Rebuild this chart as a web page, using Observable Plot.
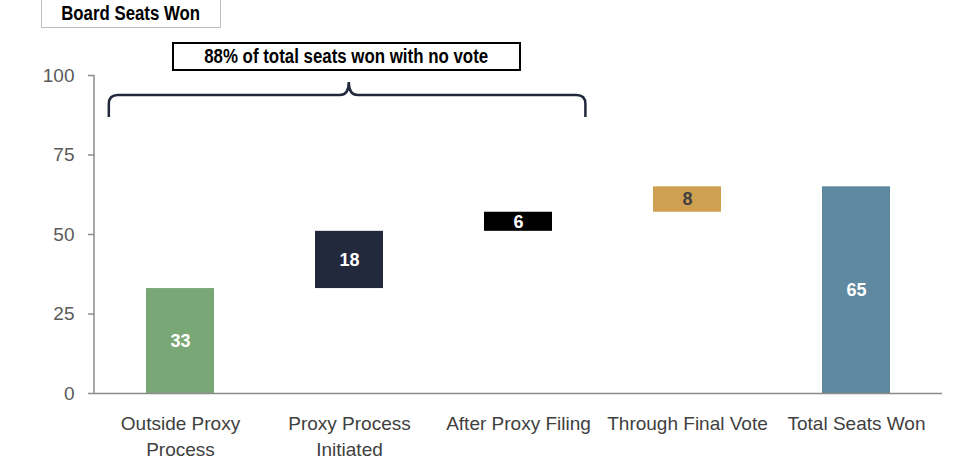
<!DOCTYPE html>
<html>
<head>
<meta charset="utf-8">
<script src="https://cdn.jsdelivr.net/npm/d3@7"></script>
<script src="https://cdn.jsdelivr.net/npm/@observablehq/plot@0.6"></script>
<style>
  html, body { margin: 0; padding: 0; background: #fff; }
  #wrap { position: relative; width: 961px; height: 467px; font-family: "Liberation Sans", Arial, sans-serif; }
  #wrap svg { position: absolute; left: 0; top: 0; }
  .title-box { position: absolute; left: 41px; top: -2px; width: 178px; height: 28px; border: 1.5px solid #bfbfbf; display: flex; align-items: center; justify-content: center; font-weight: bold; font-size: 20px; color: #000; background: #fff; z-index: 2; white-space: nowrap; }
  .title-box span { display: inline-block; transform: scaleX(0.84); }
  .note-box { position: absolute; left: 172px; top: 42px; width: 345px; height: 25px; border: 2px solid #000; display: flex; align-items: center; justify-content: center; font-weight: bold; font-size: 19.5px; color: #000; background: #fff; z-index: 2; white-space: nowrap; }
  .note-box span { display: inline-block; transform: scaleX(0.865); }
</style>
</head>
<body>
<div id="wrap"></div>
<script>
const title = "Board Seats Won";
const note = "88% of total seats won with no vote";
const categories = ["Outside Proxy\nProcess", "Proxy Process\nInitiated", "After Proxy Filing", "Through Final Vote", "Total Seats Won"];
const values = [33, 18, 6, 8, 65];
const isTotal = [false, false, false, false, true];
const yTicks = [0, 25, 50, 75, 100];
const palette = ["#7aa776", "#23293d", "#000000", "#d0a052", "#5f88a1"];
const labelColors = ["#ffffff", "#ffffff", "#ffffff", "#404040", "#ffffff"];

// build waterfall table
let run = 0;
const rows = categories.map((c, i) => {
  let y1, y2;
  if (isTotal[i]) { y1 = 0; y2 = values[i]; }
  else { y1 = run; y2 = run + values[i]; run = y2; }
  return {cat: c, y1, y2, mid: (y1 + y2) / 2, value: values[i], fill: palette[i], labelFill: labelColors[i]};
});

const FONT = '"Liberation Sans", Arial, sans-serif';

function brace(index, scales) {
  const x = scales.x, y = scales.y;
  const step = x(categories[1]) - x(categories[0]);
  const bw = step * 0.4;
  const cx = x(categories[1]) + bw / 2;
  const xl = x(categories[0]) - 0.22 * step;
  const xr = x(categories[2]) + bw + 0.2 * step;
  const yEnd = y(86.8), yTop = y(93.7), yTip = y(97.8);
  const r = 9;
  const d = `M${xl},${yEnd} L${xl},${yTop + r} Q${xl},${yTop} ${xl + r},${yTop} L${cx - r},${yTop} Q${cx},${yTop} ${cx},${yTip}` +
            ` Q${cx},${yTop} ${cx + r},${yTop} L${xr - r},${yTop} Q${xr},${yTop} ${xr},${yTop + r} L${xr},${yEnd}`;
  const p = document.createElementNS("http://www.w3.org/2000/svg", "path");
  p.setAttribute("d", d);
  p.setAttribute("fill", "none");
  p.setAttribute("stroke", "#23293d");
  p.setAttribute("stroke-width", "2.5");
  const g = document.createElementNS("http://www.w3.org/2000/svg", "g");
  g.appendChild(p);
  return g;
}

function yAxisLine(index, scales, values, dimensions) {
  const {marginLeft, marginTop, height, marginBottom} = dimensions;
  const l = document.createElementNS("http://www.w3.org/2000/svg", "line");
  l.setAttribute("x1", marginLeft); l.setAttribute("x2", marginLeft);
  l.setAttribute("y1", marginTop); l.setAttribute("y2", height - marginBottom);
  l.setAttribute("stroke", "#8c8c8c"); l.setAttribute("stroke-width", 1.5);
  return l;
}

const chart = Plot.plot({
  width: 961,
  height: 467,
  marginLeft: 94,
  marginRight: 19,
  marginTop: 75,
  marginBottom: 74,
  style: {fontFamily: FONT, background: "transparent"},
  x: {domain: categories, paddingInner: 0.6, paddingOuter: 0.3, label: null},
  y: {domain: [0, 100], label: null},
  marks: [
    Plot.axisY({ticks: yTicks, tickSize: 6, tickPadding: 14, stroke: "#8c8c8c", strokeWidth: 1.5, fill: "#595959", fontSize: 19, label: null}),
    yAxisLine,
    Plot.axisX({tickSize: 0, tickPadding: 18, fill: "#404040", fontSize: 19, lineHeight: 1.37, label: null}),
    Plot.barY(rows, {x: "cat", y1: "y1", y2: "y2", fill: "fill"}),
    Plot.ruleY([0], {stroke: "#8c8c8c", strokeWidth: 1.5}),
    Plot.text(rows, {x: "cat", y: "mid", text: "value", fill: "labelFill", fontWeight: "bold", fontSize: 18}),
    brace
  ]
});

const wrap = document.getElementById("wrap");
wrap.appendChild(chart);

const tb = document.createElement("div"); tb.className = "title-box";
const ts = document.createElement("span"); ts.textContent = title; tb.appendChild(ts); wrap.appendChild(tb);
const nb = document.createElement("div"); nb.className = "note-box";
const ns = document.createElement("span"); ns.textContent = note; nb.appendChild(ns); wrap.appendChild(nb);
</script>
</body>
</html>
